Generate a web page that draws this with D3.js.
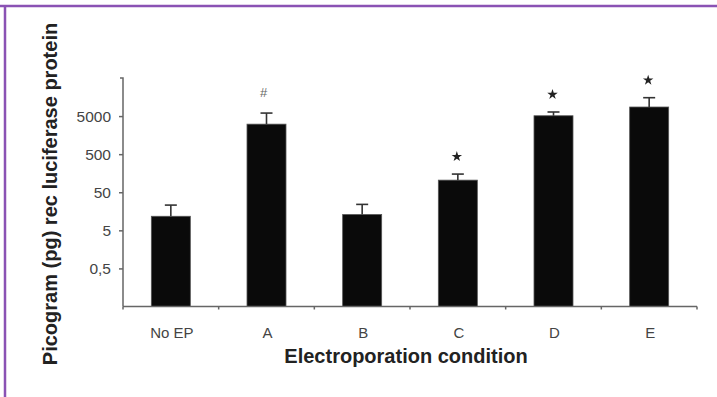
<!DOCTYPE html>
<html>
<head>
<meta charset="utf-8">
<script src="https://cdn.jsdelivr.net/npm/d3@7"></script>
<style>
  body { margin: 0; background: #fff; }
  svg { display: block; font-family: "Liberation Sans", Arial, sans-serif; }
</style>
</head>
<body>
<svg width="717" height="397"></svg>
<script>
// data (pg, log scale)
const conditions = ["No EP", "A", "B", "C", "D", "E"]
const means = [11.7, 3070, 13, 104, 5100, 8650]
const errTops = [23, 6000, 24, 150, 6400, 15200]
const marks = ["", "#", "", "*", "*", "*"]
const yTicks = [0.5, 5, 50, 500, 5000]
const yTickLabels = ["0,5", "5", "50", "500", "5000"]

const svg = d3.select("svg")
const margin = { left: 123, right: 20, top: 78, bottom: 90 }
const W = 717, H = 397
const plotBottom = 306.5

// purple frame: top and left only
svg.append("line").attr("x1", 0).attr("x2", W).attr("y1", 6).attr("y2", 6)
	.attr("stroke", "#8a52b4").attr("stroke-width", 2.5)
svg.append("line").attr("x1", 5).attr("x2", 5).attr("y1", 5).attr("y2", H)
	.attr("stroke", "#8a52b4").attr("stroke-width", 2.5)

const x = d3.scaleBand()
	.domain(conditions)
	.range([margin.left, 697])

const y = d3.scaleLog()
	.domain([0.05, 50000])
	.range([plotBottom, margin.top])

const barW = 39
const cx = (d) => x(d) + x.bandwidth() / 2

// bars
svg.selectAll(".bar")
	.data(conditions)
	.enter()
	.append("rect")
	.attr("class", "bar")
	.attr("x", (d) => cx(d) - barW / 2)
	.attr("width", barW)
	.attr("y", (d, i) => y(means[i]))
	.attr("height", (d, i) => plotBottom - y(means[i]))
	.attr("fill", "#0a0a0a")
	.attr("stroke", "#555")
	.attr("stroke-width", 0.8)

// error bars
const err = svg.selectAll(".err")
	.data(conditions)
	.enter()
	.append("g")
	.attr("class", "err")
	.attr("stroke", "#333")
	.attr("stroke-width", 1.6)
err.append("line")
	.attr("x1", cx)
	.attr("x2", cx)
	.attr("y1", (d, i) => y(means[i]))
	.attr("y2", (d, i) => y(errTops[i]))
err.append("line")
	.attr("x1", (d) => cx(d) - 6)
	.attr("x2", (d) => cx(d) + 6)
	.attr("y1", (d, i) => y(errTops[i]))
	.attr("y2", (d, i) => y(errTops[i]))

// significance marks: stars and #
const star = d3.symbol().type(d3.symbolStar).size(34)
svg.selectAll(".star")
	.data(conditions.filter((d, i) => marks[i] === "*"))
	.enter()
	.append("path")
	.attr("class", "star")
	.attr("d", star)
	.attr("fill", "#222")
	.attr("transform", (d) => `translate(${cx(d) - 1},${y(errTops[conditions.indexOf(d)]) - 17.5})`)
svg.selectAll(".hash")
	.data(conditions.filter((d, i) => marks[i] === "#"))
	.enter()
	.append("text")
	.attr("class", "hash")
	.attr("x", (d) => cx(d) - 3)
	.attr("y", (d) => y(errTops[conditions.indexOf(d)]) - 16)
	.attr("text-anchor", "middle")
	.attr("font-size", 13)
	.attr("fill", "#666")
	.text("#")

// y axis
const yAxis = d3.axisLeft(y)
	.tickValues(yTicks)
	.tickFormat((d, i) => yTickLabels[i])
	.tickSize(4)
	.tickPadding(8)
const gy = svg.append("g")
	.attr("transform", `translate(${margin.left},0)`)
	.call(yAxis)
gy.select(".domain").attr("stroke", "#666").attr("stroke-width", 1.5)
	.attr("d", `M-3,${margin.top}H0V${plotBottom}`)
gy.selectAll(".tick line").attr("stroke", "#666").attr("stroke-width", 1.5)
gy.selectAll(".tick text").attr("font-size", 15.5).attr("fill", "#444")

// x axis with boundary ticks
const bounds = conditions.map((d) => x(d)).concat([x.range()[1]])
svg.append("line")
	.attr("x1", margin.left).attr("x2", x.range()[1])
	.attr("y1", plotBottom).attr("y2", plotBottom)
	.attr("stroke", "#666").attr("stroke-width", 1.5)
svg.selectAll(".xt")
	.data(bounds)
	.enter()
	.append("line")
	.attr("x1", (d) => d).attr("x2", (d) => d)
	.attr("y1", plotBottom).attr("y2", plotBottom + 3)
	.attr("stroke", "#666").attr("stroke-width", 1.5)
svg.selectAll(".xl")
	.data(conditions)
	.enter()
	.append("text")
	.attr("x", (d) => cx(d) + 1)
	.attr("y", 338)
	.attr("text-anchor", "middle")
	.attr("font-size", 15)
	.attr("fill", "#444")
	.text((d) => d)

// axis titles
svg.append("text")
	.attr("x", 406)
	.attr("y", 363)
	.attr("text-anchor", "middle")
	.attr("font-size", 20)
	.attr("font-weight", "bold")
	.attr("fill", "#222")
	.text("Electroporation condition")
svg.append("text")
	.attr("transform", "translate(57,194) rotate(-90)")
	.attr("text-anchor", "middle")
	.attr("font-size", 20)
	.attr("font-weight", "bold")
	.attr("fill", "#222")
	.text("Picogram (pg) rec luciferase protein")
</script>
</body>
</html>
